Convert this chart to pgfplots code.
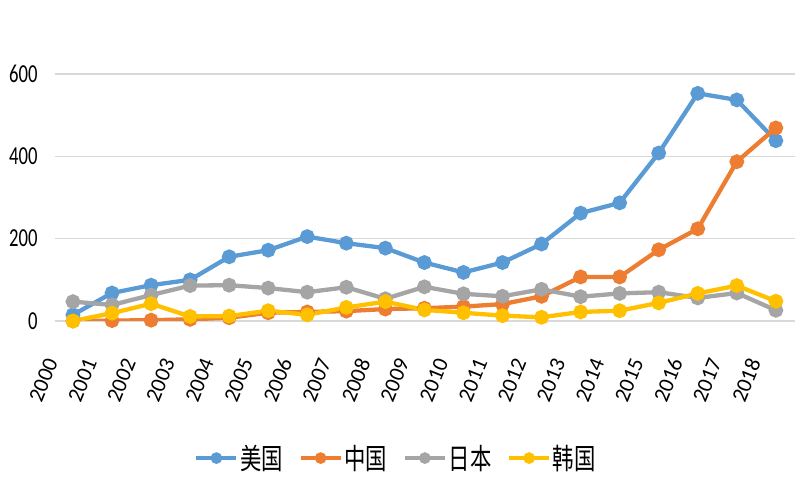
\documentclass[border=0pt]{standalone}
\usepackage{fontspec}
\usepackage{pgfplots}
\pgfplotsset{compat=1.18}
\setmainfont{Carlito}
\newfontfamily\tickfont[FakeStretch=0.72]{Carlito}
\newfontfamily\xtickfont{Carlito}
\newfontfamily\cjk[FakeStretch=0.74]{Noto Sans CJK SC}
\definecolor{cblue}{HTML}{5B9BD5}
\definecolor{corange}{HTML}{ED7D31}
\definecolor{cgray}{HTML}{A5A5A5}
\definecolor{cyellow}{HTML}{FFC000}
\definecolor{gridc}{HTML}{D9D9D9}
\begin{document}
\begin{tikzpicture}
\path[use as bounding box] (0,0) rectangle (800bp,500bp);
\begin{axis}[
  at={(55bp,179bp)}, anchor=south west,
  scale only axis, width=740bp, height=247bp,
  xmin=1999.54, xmax=2018.49, ymin=0, ymax=600,
  xtick={2000,...,2018}, ytick={0,200,400,600},
  /pgf/number format/assume math mode=true,
  /pgf/number format/1000 sep={},
  axis line style={draw=none}, major tick length=0,
  ymajorgrids, grid style={color=gridc, line width=1.5bp},
  yticklabel style={font=\tickfont\fontsize{26}{26}\selectfont, anchor=east, xshift=-14bp},
  xticklabel style={font=\xtickfont\fontsize{22}{22}\selectfont, xshift=-21bp, yshift=-38bp, rotate=68, anchor=east, inner sep=0.5bp},
  every axis plot/.append style={line width=4.3bp, mark=*, mark size=5.2bp},
  legend columns=-1,
  legend style={draw=none, fill=none, at={(0.461,-0.555)}, anchor=center,
    font=\cjk\fontsize{29}{29}\selectfont,
    /tikz/every even column/.append style={column sep=14bp}},
  legend image code/.code={\draw[mark repeat=2,mark phase=2,#1,line width=3.5bp,mark size=4bp] plot coordinates {(0bp,0bp) (20bp,0bp) (40bp,0bp)};},
]
\addplot[color=cblue, mark options={fill=cblue}] coordinates {
(2000,15) (2001,68) (2002,87) (2003,100) (2004,156) (2005,172) (2006,205) (2007,189) (2008,177) (2009,142) (2010,118) (2011,142) (2012,187) (2013,262) (2014,287) (2015,408) (2016,553) (2017,537) (2018,438)};
\addlegendentry{美国}
\addplot[color=corange, mark options={fill=corange}] coordinates {
(2000,0) (2001,1) (2002,2) (2003,4) (2004,8) (2005,20) (2006,22) (2007,24) (2008,29) (2009,31) (2010,35) (2011,41) (2012,60) (2013,107) (2014,107) (2015,173) (2016,224) (2017,387) (2018,469)};
\addlegendentry{中国}
\addplot[color=cgray, mark options={fill=cgray}] coordinates {
(2000,47) (2001,39) (2002,63) (2003,86) (2004,87) (2005,80) (2006,70) (2007,82) (2008,54) (2009,83) (2010,66) (2011,60) (2012,77) (2013,59) (2014,67) (2015,70) (2016,56) (2017,68) (2018,26)};
\addlegendentry{日本}
\addplot[color=cyellow, mark options={fill=cyellow}] coordinates {
(2000,0) (2001,19) (2002,42) (2003,11) (2004,12) (2005,25) (2006,15) (2007,33) (2008,47) (2009,27) (2010,20) (2011,13) (2012,9) (2013,22) (2014,25) (2015,44) (2016,67) (2017,86) (2018,48)};
\addlegendentry{韩国}
\end{axis}
\end{tikzpicture}
\end{document}
